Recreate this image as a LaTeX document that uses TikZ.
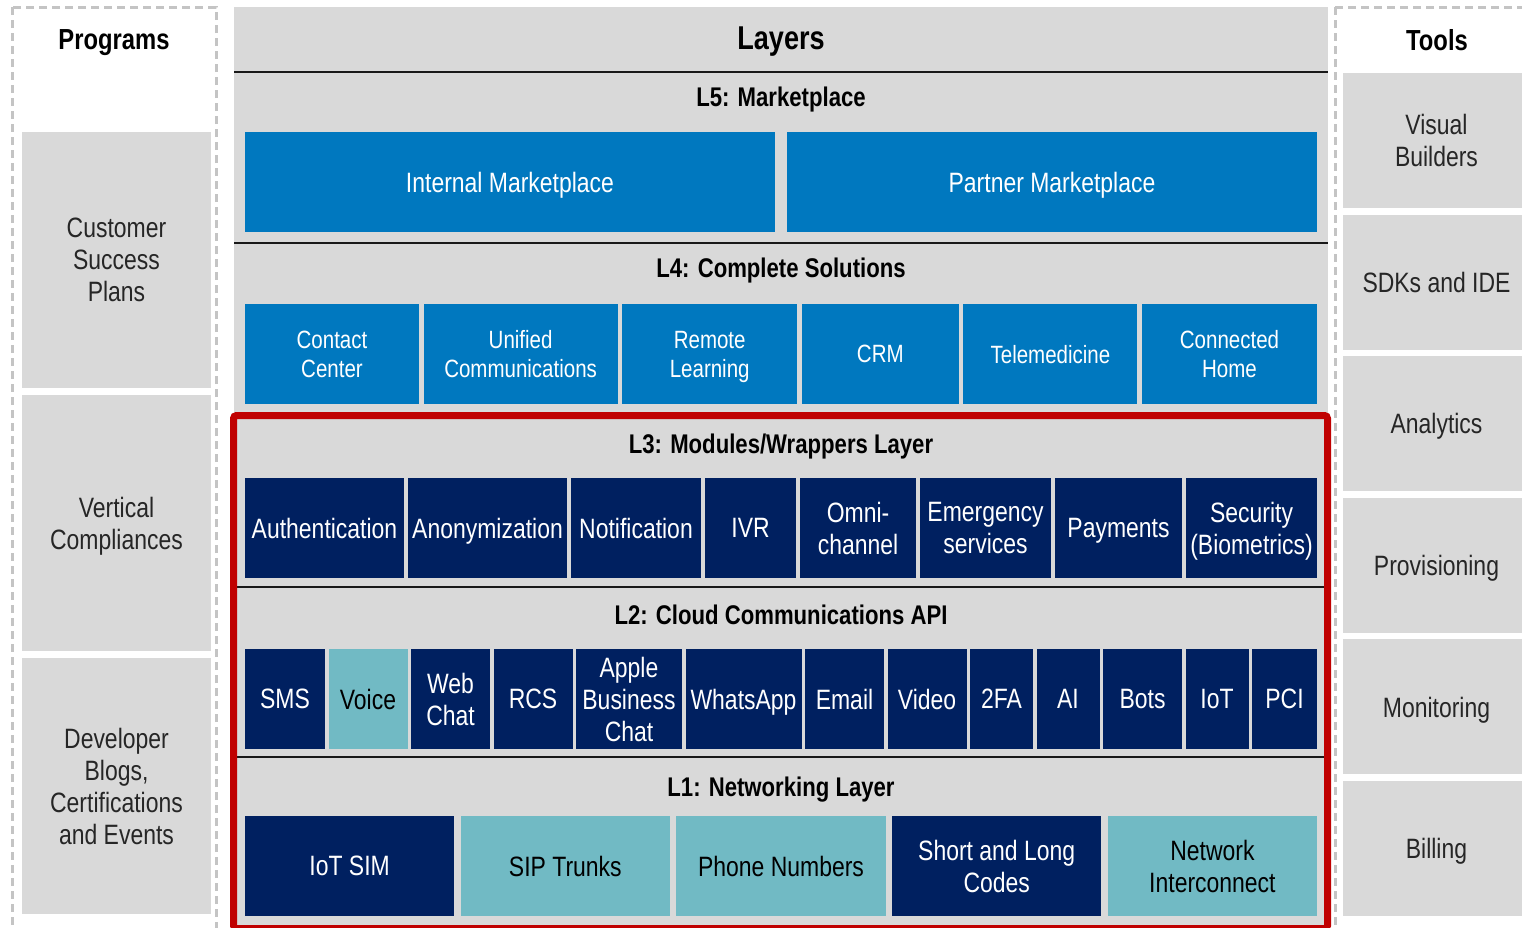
\documentclass[tikz,border=0pt]{standalone}
\usepackage{fontspec}
\setmainfont{Liberation Sans}[FakeStretch=0.82]
\usepackage{tikz}
\usetikzlibrary{positioning}
\definecolor{panel}{HTML}{D9D9D9}
\definecolor{sky}{HTML}{0078BF}
\definecolor{navy}{HTML}{002060}
\definecolor{aqua}{HTML}{71BAC4}
\definecolor{frame}{HTML}{C00000}
\definecolor{rim}{HTML}{C4C4C4}
\definecolor{ink}{HTML}{262626}

\begin{document}
\begin{tikzpicture}[
  x=1pt, y=-1pt,
  every node/.style={text depth=0pt},
  tile/.style={inner sep=0pt, outer sep=0pt, minimum height=100pt, align=center, font=\fontsize{28}{32}\selectfont},
  blue/.style={tile, fill=sky, text=white},
  deep/.style={tile, fill=navy, text=white},
  pale/.style={tile, fill=aqua, text=black},
  side/.style={tile, fill=panel, text=ink},
  head/.style={inner sep=0pt, font=\bfseries\fontsize{27}{32}\selectfont, text=black},
  sep/.style={line width=2pt, draw=black!90},
  group/.style={draw=rim, line width=3pt, dash pattern=on 8pt off 5pt}
]
\useasboundingbox (0,0) rectangle (1522,927);
\clip (0,0) rectangle (1522,927);
\fill[white] (0,0) rectangle (1522,927);

% programs column
\draw[group] (12,7) rectangle (216,945);
\node[head, font=\bfseries\fontsize{29}{32}\selectfont] (programs) at (114,40) {Programs};
\node[side, minimum width=189pt, minimum height=256pt, anchor=north west] (plans) at (22,132) {Customer\\Success\\Plans};
\node[side, minimum width=189pt, minimum height=256pt, below=7pt of plans] (compl) {Vertical\\Compliances};
\node[side, minimum width=189pt, minimum height=256pt, below=7pt of compl] (blogs) {Developer\\Blogs,\\Certifications\\and Events};

% tools column
\draw[group] (1335,7) rectangle (1545,945);
\node[head, font=\bfseries\fontsize{29}{32}\selectfont] (tools) at (1437,40) {Tools};
\node[side, minimum width=187pt, minimum height=135pt, anchor=north west] (visual) at (1343,73) {Visual\\Builders};
\node[side, minimum width=187pt, minimum height=135pt, below=6.6pt of visual] (sdks) {SDKs and IDE};
\node[side, minimum width=187pt, minimum height=135pt, below=6.6pt of sdks] (analytics) {Analytics};
\node[side, minimum width=187pt, minimum height=135pt, below=6.6pt of analytics] (provision) {Provisioning};
\node[side, minimum width=187pt, minimum height=135pt, below=6.6pt of provision] (monitor) {Monitoring};
\node[side, minimum width=187pt, minimum height=135pt, below=6.6pt of monitor] (billing) {Billing};

% layers column
\fill[panel] (234,7) rectangle (1328,945);
\node[head, font=\bfseries\fontsize{33}{36}\selectfont] (layers) at (781,38) {Layers};
\draw[sep] (234,71.5) -- (1328,71.5);
\draw[sep] (234,243) -- (1328,243);

% L5
\node[head] (l5) at (781,97) {L5: Marketplace};
\node[blue, minimum width=530pt, anchor=north west] (intmkt) at (245,132) {Internal Marketplace};
\node[blue, minimum width=530pt, right=12pt of intmkt] (prtmkt) {Partner Marketplace};

% L4
\node[head] (l4) at (781,268) {L4: Complete Solutions};
\begin{scope}[node distance=4.6pt, tile/.append style={font=\fontsize{25}{29}\selectfont}]
\node[blue, minimum width=174pt, anchor=north west] (contact) at (245,304) {Contact\\Center};
\node[blue, minimum width=194pt, right=of contact] (unified) {Unified\\Communications};
\node[blue, minimum width=175pt, right=of unified] (remote) {Remote\\Learning};
\node[blue, minimum width=157pt, right=of remote] (crm) {CRM};
\node[blue, minimum width=174pt, right=of crm] (tele) {Telemedicine};
\node[blue, minimum width=175pt, right=of tele] (home) {Connected\\Home};
\end{scope}

% L3
\node[head] (l3) at (781,444) {L3: Modules/Wrappers Layer};
\begin{scope}[node distance=4pt]
\node[deep, minimum width=159pt, anchor=north west] (auth) at (245,478) {Authentication};
\node[deep, minimum width=159pt, right=of auth] (anon) {Anonymization};
\node[deep, minimum width=130pt, right=of anon] (notif) {Notification};
\node[deep, minimum width=91pt, right=of notif] (ivr) {IVR};
\node[deep, minimum width=116pt, right=of ivr] (omni) {Omni-\\channel};
\node[deep, minimum width=131pt, right=of omni] (emerg) {Emergency\\services};
\node[deep, minimum width=127pt, right=of emerg] (pay) {Payments};
\node[deep, minimum width=131pt, right=of pay] (secur) {Security\\(Biometrics)};
\end{scope}
\draw[sep] (237,587) -- (1324,587);

% L2
\node[head] (l2) at (781,615) {L2: Cloud Communications API};
\begin{scope}[node distance=3.5pt]
\node[deep, minimum width=80pt, anchor=north west] (sms) at (245,649) {SMS};
\node[pale, minimum width=79pt, right=of sms] (voice) {Voice};
\node[deep, minimum width=79pt, right=of voice] (webchat) {Web\\Chat};
\node[deep, minimum width=79pt, right=of webchat] (rcs) {RCS};
\node[deep, minimum width=106pt, right=of rcs] (apple) {Apple\\Business\\Chat};
\node[deep, minimum width=116pt, right=of apple] (whatsapp) {WhatsApp};
\node[deep, minimum width=79pt, right=of whatsapp] (email) {Email};
\node[deep, minimum width=79pt, right=of email] (video) {Video};
\node[deep, minimum width=63pt, right=of video] (twofa) {2FA};
\node[deep, minimum width=63pt, right=of twofa] (ai) {AI};
\node[deep, minimum width=79pt, right=of ai] (bots) {Bots};
\node[deep, minimum width=63pt, right=of bots] (iot) {IoT};
\node[deep, minimum width=65pt, right=of iot] (pci) {PCI};
\end{scope}
\draw[sep] (237,757) -- (1324,757);

% L1
\node[head] (l1) at (781,787) {L1: Networking Layer};
\begin{scope}[node distance=6.5pt]
\node[deep, minimum width=209.2pt, anchor=north west] (iotsim) at (245,816) {IoT SIM};
\node[pale, minimum width=209.2pt, right=of iotsim] (sip) {SIP Trunks};
\node[pale, minimum width=209.2pt, right=of sip] (phone) {Phone Numbers};
\node[deep, minimum width=209.2pt, right=of phone] (codes) {Short and Long\\Codes};
\node[pale, minimum width=209.2pt, right=of codes] (interco) {Network\\Interconnect};
\end{scope}

% L1 to L3 frame
\draw[frame, line width=7pt, rounded corners=3pt] (233.5,415.5) rectangle (1327.5,928.5);
\end{tikzpicture}
\end{document}
